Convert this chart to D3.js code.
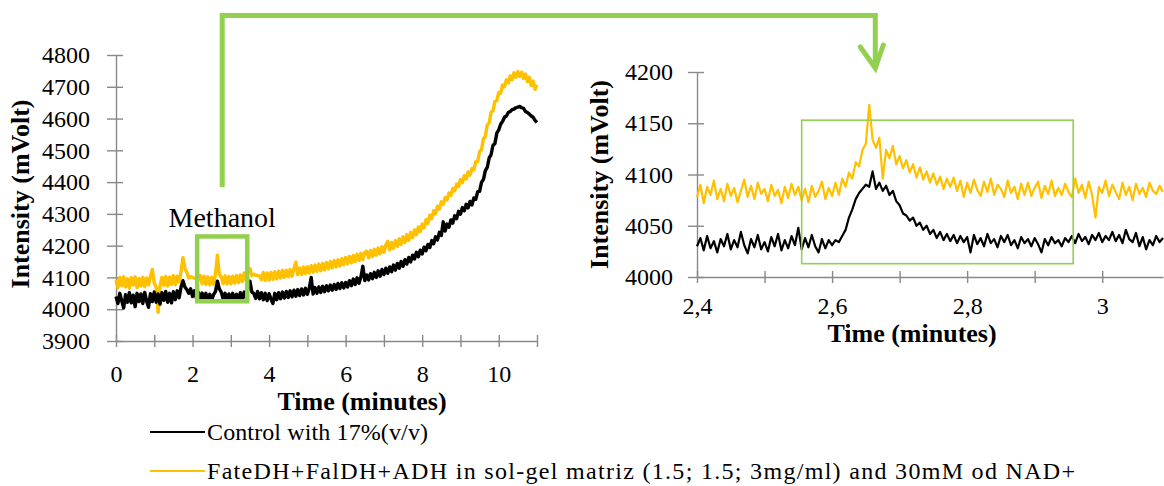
<!DOCTYPE html>
<html>
<head>
<meta charset="utf-8">
<script src="https://cdn.jsdelivr.net/npm/d3@7"></script>
<style>
  body { margin: 0; background: #fff; }
  svg { display: block; }
  text { font-family: 'Liberation Serif', 'Times New Roman', serif; fill: #000; }
</style>
</head>
<body>
<svg id="chart" width="1164" height="486"></svg>
<script>
// ---- Overview run (0 – 11 min), sampled every 0.05 min ----
const overviewStart = 0;
const overviewStep = 0.05;
const controlOverview = [
  4040,4018,4050,4026,4004,4046,4022,4052,4020,4044,4008,4050,4024,4048,4018,4053,4026,4006,4049,4024,4054,
  4022,4048,4016,4052,4028,4056,4022,4050,4020,4055,4030,4058,4036,4070,4090,4070,4062,4050,4064,4040,
  4058,4034,4054,4030,4051,4029,4050,4026,4047,4028,4046,4056,4088,4064,4054,4032,4050,4029,4048,4030,
  4050,4028,4047,4030,4052,4032,4054,4036,4064,4088,4054,4050,4034,4056,4033,4052,4030,4050,4027,4049,
  4032,4018,4050,4030,4052,4033,4054,4035,4056,4037,4058,4039,4060,4041,4062,4043,4064,4045,4066,4047,
  4066,4100,4048,4068,4050,4070,4053,4072,4055,4074,4058,4076,4060,4078,4062,4081,4065,4083,4067,4084,
  4070,4090,4074,4095,4078,4099,4082,4102,4135,4090,4108,4092,4112,4096,4116,4100,4121,4104,4125,4109,
  4129,4113,4133,4118,4139,4123,4144,4129,4150,4135,4156,4142,4163,4149,4170,4158,4179,4165,4186,4174,
  4195,4184,4204,4194,4216,4206,4228,4218,4242,4232,4275,4246,4268,4258,4281,4271,4294,4285,4308,4299,
  4320,4310,4330,4319,4339,4328,4350,4346,4370,4371,4399,4408,4436,4446,4476,4486,4516,4521,4554,4564,
  4582,4591,4604,4608,4619,4622,4628,4630,4634,4636,4638,4634,4632,4622,4619,4614,4608,4604,4594,4588
];
const enzymeOverview = [
  4092,4068,4100,4074,4102,4070,4096,4066,4099,4076,4102,4068,4097,4073,4101,4071,4098,4077,4103,4125,4082,
  4070,3990,4074,4100,4075,4103,4073,4101,4078,4106,4077,4104,4086,4120,4162,4128,4116,4098,4102,4100,
  4098,4097,4094,4106,4080,4104,4078,4102,4077,4101,4079,4112,4170,4108,4102,4081,4105,4079,4103,4080,
  4104,4082,4106,4084,4108,4087,4114,4091,4120,4128,4106,4110,4107,4106,4105,4093,4116,4091,4114,4092,
  4116,4094,4118,4096,4120,4098,4122,4100,4123,4102,4125,4104,4128,4148,4108,4130,4110,4133,4112,4134,
  4114,4137,4116,4139,4119,4142,4121,4144,4124,4147,4127,4150,4130,4153,4133,4156,4136,4159,4140,4163,
  4143,4166,4146,4169,4150,4173,4153,4176,4156,4179,4182,4162,4185,4166,4189,4170,4193,4174,4197,4179,
  4202,4214,4187,4210,4192,4216,4198,4222,4204,4228,4210,4235,4217,4242,4225,4250,4234,4259,4244,4268,
  4256,4282,4270,4296,4285,4310,4300,4324,4315,4338,4330,4352,4344,4366,4358,4380,4372,4394,4386,4408,
  4398,4420,4410,4432,4422,4443,4439,4464,4464,4496,4502,4536,4544,4580,4586,4620,4624,4654,4656,4682,
  4680,4706,4700,4722,4712,4734,4722,4744,4730,4748,4732,4746,4726,4740,4716,4730,4704,4718,4692,4706
];

// ---- Detail of the methanol peak (2.4 – 3.09 min), sampled every 0.005 min ----
const detailStart = 2.4;
const detailStep = 0.005;
const controlDetail = [
  4030,4038,4026,4040,4028,4035,4024,4037,4030,4042,4027,4036,4029,4044,4031,4023,4037,4029,4041,4027,
  4034,4025,4039,4030,4042,4026,4036,4028,4040,4031,4048,4027,4038,4029,4041,4030,4024,4037,4028,4036,
  4031,4036,4034,4040,4046,4058,4066,4076,4082,4086,4090,4088,4103,4086,4092,4084,4089,4080,4084,4074,
  4070,4062,4060,4055,4058,4050,4053,4046,4050,4042,4046,4038,4044,4036,4042,4035,4041,4033,4040,4034,
  4039,4024,4041,4032,4038,4030,4042,4033,4037,4029,4040,4034,4041,4031,4036,4028,4039,4033,4037,4030,
  4038,4032,4024,4037,4031,4039,4033,4036,4030,4038,4034,4040,4033,4042,4035,4039,4032,4041,4036,4043,
  4034,4040,4036,4044,4035,4041,4033,4046,4037,4034,4043,4030,4039,4027,4036,4031,4040,4034,4038
];
const enzymeDetail = [
  4078,4090,4072,4088,4080,4094,4076,4086,4074,4091,4079,4087,4073,4084,4095,4078,4089,4076,4092,4081,
  4086,4074,4090,4079,4085,4072,4088,4077,4091,4080,4088,4075,4086,4073,4089,4078,4084,4093,4076,4087,
  4079,4092,4080,4096,4088,4102,4096,4112,4108,4124,4130,4168,4134,4126,4136,4096,4124,4116,4128,4110,
  4118,4106,4114,4102,4110,4097,4107,4095,4103,4092,4101,4090,4098,4086,4096,4088,4097,4084,4094,4078,
  4092,4082,4095,4085,4079,4093,4083,4096,4080,4090,4086,4078,4094,4082,4088,4076,4091,4080,4092,4079,
  4087,4093,4077,4089,4081,4094,4079,4087,4080,4091,4083,4078,4096,4082,4090,4077,4093,4080,4058,4088,
  4082,4094,4079,4090,4083,4076,4092,4080,4088,4075,4091,4081,4087,4078,4092,4084,4081,4089,4083
];

// ---- Axis ticks and labels ----
const overviewYTicks = [3900,4000,4100,4200,4300,4400,4500,4600,4700,4800];
const overviewXTicks = [0,1,2,3,4,5,6,7,8,9,10,11];
const overviewXLabels = [0,2,4,6,8,10];
const detailYTicks = [4000,4050,4100,4150,4200];
const detailXTicks = [2.4,2.5,2.6,2.7,2.8,2.9,3.0];
const detailXLabels = [2.4,2.6,2.8,3.0];

// ---- Texts ----
const seriesNames = [
  'Control with 17%(v/v)',
  'FateDH+FalDH+ADH in sol-gel matriz (1.5; 1.5; 3mg/ml) and 30mM od NAD+'
];
const seriesColors = ['#000000', '#FFC000'];
const yTitle = 'Intensity (mVolt)';
const xTitle = 'Time (minutes)';
const peakLabel = 'Methanol';

// methanol window marked on the overview and the zoomed window on the detail
const overviewWindow = { t0: 2.12, t1: 3.43, v0: 4025, v1: 4229 };
const detailWindow = { t0: 2.555, t1: 2.957, v0: 4013, v1: 4153 };
const peakTime = 2.664;

const AXIS = '#898989';
const GREEN = '#92D050';
const SERIF = "'Liberation Serif','Times New Roman',serif";

const svg = d3.select('#chart');
svg.append('rect').attr('width', 1164).attr('height', 486).attr('fill', '#fff');

const xL = d3.scaleLinear().domain([0, 11]).range([116, 537]);
const yL = d3.scaleLinear().domain([3900, 4800]).range([341, 55]);
const xR = d3.scaleLinear().domain([2.4, 3.09]).range([697, 1163]);
const yR = d3.scaleLinear().domain([4000, 4200]).range([277, 72]);

const toSeries = (vals, start, step) => vals.map((v, i) => ({ t: start + i * step, v }));

function styleAxis(g, fs) {
  g.attr('font-family', SERIF).attr('font-size', fs);
  g.select('.domain').attr('stroke', AXIS).attr('stroke-width', 1.4);
  g.selectAll('.tick line').attr('stroke', AXIS).attr('stroke-width', 1.4);
  g.selectAll('.tick text').attr('font-size', fs).attr('fill', '#000').attr('font-family', SERIF);
}

// ---------- overview panel ----------
const gLy = svg.append('g').attr('transform', `translate(${xL(0)},0)`)
  .call(d3.axisLeft(yL).tickValues(overviewYTicks).tickFormat(d3.format('d'))
    .tickSize(9).tickSizeOuter(0).tickPadding(17));
gLy.selectAll('.tick line').attr('x1', 7);
styleAxis(gLy, 24);

const gLx = svg.append('g').attr('transform', `translate(0,${yL(3900)})`)
  .call(d3.axisBottom(xL).tickValues(overviewXTicks).tickSize(6).tickSizeOuter(0).tickPadding(18)
    .tickFormat(d => overviewXLabels.includes(d) ? String(d) : ''));
gLx.selectAll('.tick line').attr('y1', -6);
styleAxis(gLx, 24);

const lineL = d3.line().x(d => xL(d.t)).y(d => yL(d.v));
svg.append('path').datum(toSeries(enzymeOverview, overviewStart, overviewStep))
  .attr('d', lineL).attr('fill', 'none').attr('stroke', seriesColors[1])
  .attr('stroke-width', 3.4).attr('stroke-linejoin', 'round');
svg.append('path').datum(toSeries(controlOverview, overviewStart, overviewStep))
  .attr('d', lineL).attr('fill', 'none').attr('stroke', seriesColors[0])
  .attr('stroke-width', 3.4).attr('stroke-linejoin', 'round');

svg.append('text').attr('transform', `translate(29,${(yL(3900) + yL(4800)) / 2 - 4}) rotate(-90)`)
  .attr('text-anchor', 'middle').attr('font-size', 26).attr('font-weight', 'bold').text(yTitle);
svg.append('text').attr('x', 362).attr('y', 410)
  .attr('text-anchor', 'middle').attr('font-size', 26).attr('font-weight', 'bold').text(xTitle);

// methanol window + label
svg.append('rect')
  .attr('x', xL(overviewWindow.t0)).attr('y', yL(overviewWindow.v1))
  .attr('width', xL(overviewWindow.t1) - xL(overviewWindow.t0))
  .attr('height', yL(overviewWindow.v0) - yL(overviewWindow.v1))
  .attr('fill', 'none').attr('stroke', GREEN).attr('stroke-width', 4.5);
const winMid = xL((overviewWindow.t0 + overviewWindow.t1) / 2);
svg.append('text').attr('x', winMid).attr('y', 227).attr('text-anchor', 'middle')
  .attr('font-size', 28).text(peakLabel);

// ---------- detail panel ----------
const gRy = svg.append('g').attr('transform', `translate(${xR(2.4)},0)`)
  .call(d3.axisLeft(yR).tickValues(detailYTicks).tickFormat(d3.format('d'))
    .tickSize(9).tickSizeOuter(0).tickPadding(15));
gRy.selectAll('.tick line').attr('x1', 7);
styleAxis(gRy, 24);

const commaFmt = d => String(+d.toFixed(1)).replace('.', ',');
const gRx = svg.append('g').attr('transform', `translate(0,${yR(4000)})`)
  .call(d3.axisBottom(xR).tickValues(detailXTicks).tickSize(6).tickSizeOuter(0).tickPadding(14)
    .tickFormat(d => detailXLabels.some(l => Math.abs(l - d) < 1e-9) ? commaFmt(d) : ''));
gRx.selectAll('.tick line').attr('y1', -6);
styleAxis(gRx, 24);

const lineR = d3.line().x(d => xR(d.t)).y(d => yR(d.v));
svg.append('path').datum(toSeries(enzymeDetail, detailStart, detailStep))
  .attr('d', lineR).attr('fill', 'none').attr('stroke', seriesColors[1])
  .attr('stroke-width', 2.2).attr('stroke-linejoin', 'round');
svg.append('path').datum(toSeries(controlDetail, detailStart, detailStep))
  .attr('d', lineR).attr('fill', 'none').attr('stroke', seriesColors[0])
  .attr('stroke-width', 2.2).attr('stroke-linejoin', 'round');

svg.append('rect')
  .attr('x', xR(detailWindow.t0)).attr('y', yR(detailWindow.v1))
  .attr('width', xR(detailWindow.t1) - xR(detailWindow.t0))
  .attr('height', yR(detailWindow.v0) - yR(detailWindow.v1))
  .attr('fill', 'none').attr('stroke', GREEN).attr('stroke-width', 1.6);

svg.append('text').attr('transform', `translate(608,${(yR(4000) + yR(4200)) / 2}) rotate(-90)`)
  .attr('text-anchor', 'middle').attr('font-size', 26).attr('font-weight', 'bold').text(yTitle);
svg.append('text').attr('x', 912).attr('y', 342)
  .attr('text-anchor', 'middle').attr('font-size', 26).attr('font-weight', 'bold').text(xTitle);

// ---------- connector arrow from the overview window to the detail peak ----------
const arrowX = xR(peakTime);
svg.append('path')
  .attr('d', `M${winMid},${yL(4385)} V15.5 H${arrowX} V66`)
  .attr('fill', 'none').attr('stroke', GREEN).attr('stroke-width', 5);
svg.append('path')
  .attr('d', `M${arrowX - 15},47 L${arrowX},68 L${arrowX + 8},45`)
  .attr('fill', 'none').attr('stroke', GREEN).attr('stroke-width', 5)
  .attr('stroke-linecap', 'round').attr('stroke-linejoin', 'miter');

// ---------- legend ----------
const legendTextWidths = [221, 868];
const legend = svg.append('g');
seriesNames.forEach((name, i) => {
  const y = 432 + i * 39;
  legend.append('line').attr('x1', 150).attr('x2', 205).attr('y1', y).attr('y2', y)
    .attr('stroke', seriesColors[i]).attr('stroke-width', 2.2);
  legend.append('text').attr('x', 207).attr('y', y + 8).attr('font-size', 24)
    .attr('textLength', legendTextWidths[i]).attr('lengthAdjust', 'spacing').text(name);
});
</script>
</body>
</html>
